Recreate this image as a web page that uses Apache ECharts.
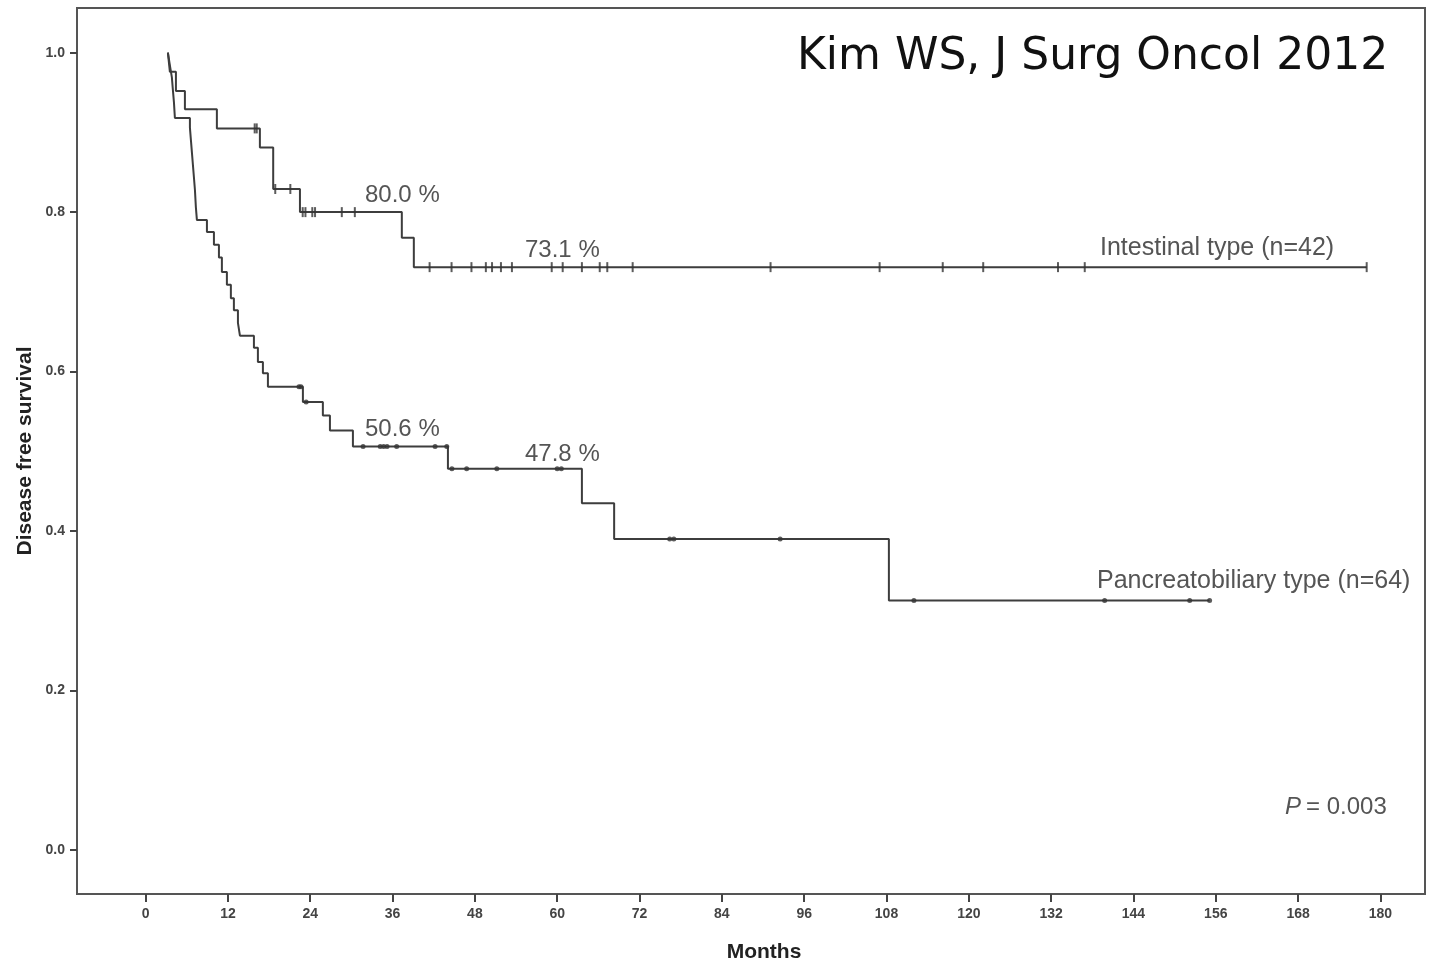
<!DOCTYPE html>
<html><head><meta charset="utf-8">
<script src="https://cdn.jsdelivr.net/npm/echarts@6/dist/echarts.min.js"></script>
<style>html,body{margin:0;padding:0;background:#fff}#c{width:1439px;height:963px}</style>
</head><body><div id="c"></div>
<script>
// Tick values
const monthTicks = [0, 12, 24, 36, 48, 60, 72, 84, 96, 108, 120, 132, 144, 156, 168, 180];
const survTicks = [0, 0.2, 0.4, 0.6, 0.8, 1.0];

// Intestinal type (n=42): step times (months) and survival from that time on
const intestinalTime = [3.25, 3.54, 4.42, 5.73, 10.39, 16.66, 18.6, 22.5, 37.35, 39.1, 178.0];
const intestinalSurv = [1.0, 0.976, 0.952, 0.929, 0.905, 0.881, 0.829, 0.800, 0.768, 0.731, 0.731];
const intestinalCensor = [15.9, 16.2, 18.9, 21.1, 22.9, 23.3, 24.3, 24.7, 28.6, 30.5,
  41.4, 44.6, 47.5, 49.6, 50.5, 51.8, 53.4, 59.2, 60.8, 63.6, 66.2, 67.3, 71.0,
  91.1, 107.0, 116.2, 122.1, 133.0, 136.9, 178.0];

// Pancreatobiliary type (n=64)
const pancreatoTime = [3.25, 3.54, 3.83, 3.98, 4.13, 4.27, 6.46, 6.60, 6.75, 6.90, 7.04, 7.19, 7.33,
  7.48, 8.94, 9.96, 10.69, 11.12, 11.85, 12.43, 12.87, 13.46, 13.75, 15.79, 16.37, 17.10, 17.83,
  22.93, 25.84, 26.87, 30.22, 44.07, 63.6, 68.3, 108.35, 155.1];
const pancreatoSurv = [1.0, 0.984, 0.969, 0.953, 0.938, 0.918, 0.906, 0.891, 0.875, 0.859, 0.844, 0.828, 0.806,
  0.790, 0.775, 0.759, 0.743, 0.725, 0.709, 0.692, 0.677, 0.661, 0.645, 0.630, 0.612, 0.598, 0.581,
  0.562, 0.545, 0.526, 0.506, 0.478, 0.435, 0.390, 0.313, 0.313];
const pancreatoCensor = [22.36, 22.65, 23.4, 31.7, 34.2, 34.7, 35.2, 36.6, 42.2, 43.9,
  44.65, 46.8, 51.2, 60.0, 60.6, 76.4, 77.0, 92.5, 112.0, 139.8, 152.2, 155.1];

function survAt(times, surv, t) {
  let v = surv[0];
  for (let i = 0; i < times.length; i++) { if (times[i] <= t + 1e-9) v = surv[i]; }
  return v;
}
const zip = (a, b) => a.map((x, i) => [x, b[i]]);

const lineColor = '#3d3d3d';
const sans = '"Liberation Sans", Arial, sans-serif';

const chart = echarts.init(document.getElementById('c'), null, { renderer: 'canvas' });

function txt(x, y, text, size, opts) {
  opts = opts || {};
  return {
    type: 'text', x: x, y: y, z: 100,
    rotation: opts.rotation || 0,
    style: {
      text: text,
      font: (opts.style || 'normal') + ' ' + (opts.weight || 'normal') + ' ' + size + 'px ' + (opts.family || sans),
      fill: opts.color || '#555',
      align: opts.align || 'left', textAlign: opts.align || 'left',
      verticalAlign: 'middle', textVerticalAlign: 'middle'
    }
  };
}

chart.setOption({
  animation: false,
  backgroundColor: '#fff',
  grid: { left: 77, right: 14, top: 8, bottom: 69, show: true, borderColor: '#555', borderWidth: 2, backgroundColor: 'transparent' },
  xAxis: {
    type: 'value', min: -10, max: 186.5,
    axisLine: { show: true, onZero: false, lineStyle: { color: '#555', width: 2 } },
    axisTick: { show: true, customValues: monthTicks, length: 8, inside: false, lineStyle: { color: '#444', width: 2 } },
    axisLabel: { show: true, customValues: monthTicks, margin: 13, color: '#444', fontSize: 14, fontWeight: 'bold', fontFamily: sans },
    splitLine: { show: false }
  },
  yAxis: {
    type: 'value', min: -0.0552, max: 1.056,
    axisLine: { show: true, onZero: false, lineStyle: { color: '#555', width: 2 } },
    axisTick: { show: true, customValues: survTicks, length: 7, inside: false, lineStyle: { color: '#444', width: 2 } },
    axisLabel: { show: true, customValues: survTicks, margin: 12, color: '#444', fontSize: 14, fontWeight: 'bold', fontFamily: sans,
      formatter: v => v.toFixed(1) },
    splitLine: { show: false }
  },
  series: [
    { name: 'Intestinal', type: 'line', step: 'end', symbol: 'none', data: zip(intestinalTime, intestinalSurv),
      lineStyle: { color: lineColor, width: 2 } },
    { name: 'Pancreatobiliary', type: 'line', step: 'end', symbol: 'none', data: zip(pancreatoTime, pancreatoSurv),
      lineStyle: { color: lineColor, width: 2 } },
    { name: 'Intestinal censored', type: 'scatter', symbol: 'rect', symbolSize: [2, 10],
      itemStyle: { color: '#333' }, z: 5,
      data: intestinalCensor.map(t => [t, survAt(intestinalTime, intestinalSurv, t)]) },
    { name: 'Pancreatobiliary censored', type: 'scatter', symbol: 'circle', symbolSize: 5,
      itemStyle: { color: '#333' }, z: 5,
      data: pancreatoCensor.map(t => [t, survAt(pancreatoTime, pancreatoSurv, t)]) }
  ],
  graphic: [
    txt(797, 58, 'Kim WS, J Surg Oncol 2012', 44, { family: '"DejaVu Sans", Verdana, sans-serif', color: '#111' }),
    txt(365, 195, '80.0 %', 24),
    txt(525, 250, '73.1 %', 24),
    txt(365, 429, '50.6 %', 24),
    txt(525, 454, '47.8 %', 24),
    txt(1100, 248, 'Intestinal type (n=42)', 25),
    txt(1097, 581, 'Pancreatobiliary type (n=64)', 25),
    txt(1285, 807, 'P', 24, { style: 'italic' }),
    txt(1306, 807, '= 0.003', 24),
    txt(764, 952, 'Months', 21, { weight: 'bold', color: '#222', align: 'center' }),
    txt(25, 451, 'Disease free survival', 21, { weight: 'bold', color: '#222', align: 'center', rotation: Math.PI / 2 })
  ]
});
</script>
</body></html>
